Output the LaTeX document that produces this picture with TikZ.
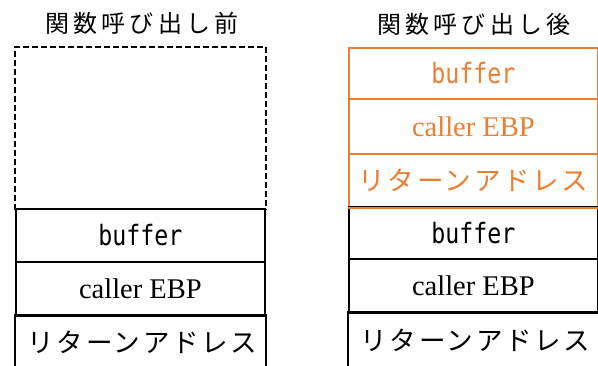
\documentclass[tikz,border=0pt]{standalone}
\usepackage{fontspec}
\setmainfont{Liberation Serif}
\newfontfamily\jp{Noto Sans CJK JP}
\newfontfamily\jpt[LetterSpace=18]{Noto Sans CJK JP}
\newfontfamily\jpr[LetterSpace=10]{Noto Sans CJK JP}
\newfontfamily\monof[FakeStretch=0.83]{DejaVu Sans Mono}
\definecolor{orng}{HTML}{ED7D31}
\begin{document}
\begin{tikzpicture}[x=1pt,y=-1pt,
  cell/.style={draw, line width=1.8pt, rectangle, minimum width=249pt, inner sep=0pt, anchor=north west},
  bufl/.style={font=\monof\fontsize{28}{28}\selectfont},
  ebpl/.style={font=\fontsize{28.5}{28.5}\selectfont},
  retl/.style={font=\jpr\fontsize{26.5}{26.5}\selectfont},
  ttl/.style={font=\jpt\fontsize{24}{24}\selectfont, inner sep=0pt},
  oc/.style={draw=orng, text=orng}]
\useasboundingbox (0,0) rectangle (598,365);
% titles
\node[ttl] (t1) at (142,23) {関数呼び出し前};
\node[ttl] (t2) at (474,24) {関数呼び出し後};
% left column
\node[cell, draw=none, minimum height=161pt] (free) at (15,47) {};
\draw[line width=2.2pt, dash pattern=on 5.5pt off 3.5pt] (free.south west) -- (free.north west) -- (free.north east) -- (free.south east);
\node[cell, minimum height=53pt, bufl] (lb) at (15,208) {buffer};
\node[cell, minimum height=54pt, ebpl] (le) at (15,261) {caller EBP};
\node[cell, draw=none, minimum height=52pt, retl] (lr) at (17,315) {リターンアドレス};
\draw[line width=1.8pt] ([xshift=-2pt]lr.south west) -- ([xshift=-2pt]lr.north west) -- ([xshift=-2pt]lr.north east) -- ([xshift=-2pt]lr.south east);
% right column
\node[cell, oc, minimum height=51pt, bufl] (rob) at (348,47) {buffer};
\node[cell, oc, minimum height=55pt, ebpl] (roe) at (348,98) {caller EBP};
\node[cell, oc, minimum height=53pt, retl] (ror) at (348,153) {リターンアドレス};
\node[cell, minimum height=52pt, bufl] (rb) at (348,206) {buffer};
\node[cell, minimum height=54pt, ebpl] (re) at (348,258) {caller EBP};
\node[cell, draw=none, minimum height=55pt, retl] (rr) at (350,312) {リターンアドレス};
\draw[line width=1.8pt] ([xshift=-2pt]rr.south west) -- ([xshift=-2pt]rr.north west) -- ([xshift=-2pt]rr.north east) -- ([xshift=-2pt]rr.south east);
\draw[line width=1.8pt, orng] (ror.south west) -- (ror.south east);
\end{tikzpicture}
\end{document}
